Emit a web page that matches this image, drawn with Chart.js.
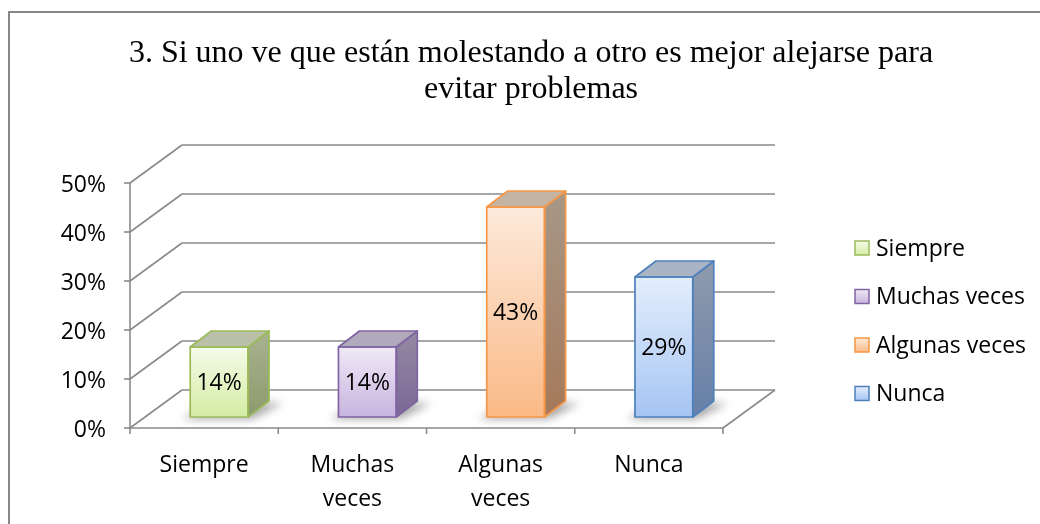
<!DOCTYPE html>
<html>
<head>
<meta charset="utf-8">
<script src="https://cdn.jsdelivr.net/npm/chart.js@4.4.1/dist/chart.umd.min.js"></script>
<style>
    html, body { margin: 0; padding: 0; background: #fff; }
    canvas { display: block; }
</style>
</head>
<body>
<canvas id="grafico" width="1040" height="524"></canvas>
<script>
const titulo = ['3. Si uno ve que están molestando a otro es mejor alejarse para', 'evitar problemas'];
const categorias = ['Siempre', 'Muchas veces', 'Algunas veces', 'Nunca'];
const etiquetasX = [['Siempre'], ['Muchas', 'veces'], ['Algunas', 'veces'], ['Nunca']];
const valores = [14.29, 14.29, 42.86, 28.57];
const etiquetasValor = ['14%', '14%', '43%', '29%'];
const ticksY = [0, 10, 20, 30, 40, 50];

const bordes = ['#9bbb59', '#8064a2', '#f79646', '#4f81bd'];
const frenteClaro = ['#f5fbe9', '#efe9f6', '#fdeadb', '#e3eefc'];
const frenteOscuro = ['#d4eca4', '#c7b4df', '#fab986', '#a6c5f3'];
const ladoClaro = ['#a9b290', '#9489a3', '#a69888', '#8f9aad'];
const ladoOscuro = ['#8c9b6d', '#7b6895', '#a6795a', '#6780a8'];
const techo = ['#b9c0a7', '#b1a9bc', '#c3b4a4', '#a9b4c5'];

// profundidad del piso y de las barras
const PISO = { dx: 52, dy: -38 };
const FRENTE_BARRA = { dx: 15, dy: -11 };
const FONDO_BARRA = { dx: 21, dy: -16 };
const GRIS = '#8a8a8a';
const FUENTE = '"Open Sans", "DejaVu Sans", sans-serif';

function linea(ctx, x1, y1, x2, y2) {
    ctx.beginPath();
    ctx.moveTo(x1, y1);
    ctx.lineTo(x2, y2);
    ctx.stroke();
}

function poligono(ctx, puntos) {
    ctx.beginPath();
    ctx.moveTo(puntos[0][0], puntos[0][1]);
    for (let i = 1; i < puntos.length; i++) ctx.lineTo(puntos[i][0], puntos[i][1]);
    ctx.closePath();
}

const plugin3D = {
    id: 'plugin3D',
    beforeDatasetsDraw(chart) {
        const ctx = chart.ctx;
        const a = chart.chartArea;
        const y = chart.scales.y;

        ctx.save();
        ctx.strokeStyle = GRIS;
        ctx.lineWidth = 1.6;

        // paredes: lineas de cuadricula de fondo y lateral
        ticksY.forEach(v => {
            const py = y.getPixelForValue(v);
            linea(ctx, a.left, py, a.left + PISO.dx, py + PISO.dy);
            linea(ctx, a.left + PISO.dx, py + PISO.dy, a.right + PISO.dx, py + PISO.dy);
        });

        // piso
        linea(ctx, a.right, a.bottom, a.right + PISO.dx, a.bottom + PISO.dy);
        linea(ctx, a.left, a.bottom, a.right, a.bottom);
        linea(ctx, a.left, a.top, a.left, a.bottom);

        // marcas de los ejes
        ticksY.forEach(v => {
            const py = y.getPixelForValue(v);
            linea(ctx, a.left - 6, py, a.left, py);
        });
        const paso = (a.right - a.left) / categorias.length;
        for (let i = 0; i <= categorias.length; i++) {
            const px = a.left + paso * i;
            linea(ctx, px, a.bottom, px, a.bottom + 6);
        }
        ctx.restore();

        // sombras en el piso
        const meta = chart.getDatasetMeta(0);
        ctx.save();
        ctx.translate(FRENTE_BARRA.dx, FRENTE_BARRA.dy);
        ctx.filter = 'blur(4px)';
        ctx.fillStyle = 'rgba(60, 60, 60, 0.45)';
        meta.data.forEach(bar => {
            const l = bar.x - bar.width / 2;
            const r = bar.x + bar.width / 2;
            const b = bar.base;
            poligono(ctx, [
                [l - 8, b + 2], [r + 4, b + 2],
                [r + FONDO_BARRA.dx + 14, b + FONDO_BARRA.dy + 2],
                [l + FONDO_BARRA.dx, b + FONDO_BARRA.dy + 2]
            ]);
            ctx.fill();
        });
        ctx.restore();

        // las barras se dibujan en el plano de su cara frontal
        ctx.save();
        ctx.translate(FRENTE_BARRA.dx, FRENTE_BARRA.dy);
    },
    afterDatasetsDraw(chart) {
        const ctx = chart.ctx;
        const meta = chart.getDatasetMeta(0);

        meta.data.forEach((bar, i) => {
            const l = bar.x - bar.width / 2;
            const r = bar.x + bar.width / 2;
            const t = bar.y;
            const b = bar.base;
            const dx = FONDO_BARRA.dx, dy = FONDO_BARRA.dy;

            ctx.lineWidth = 1.7;
            ctx.lineJoin = 'round';
            ctx.strokeStyle = bordes[i];

            const gLado = ctx.createLinearGradient(0, t + dy, 0, b);
            gLado.addColorStop(0, ladoClaro[i]);
            gLado.addColorStop(1, ladoOscuro[i]);
            poligono(ctx, [[r, t], [r + dx, t + dy], [r + dx, b + dy], [r, b]]);
            ctx.fillStyle = gLado;
            ctx.fill();
            ctx.stroke();

            poligono(ctx, [[l, t], [l + dx, t + dy], [r + dx, t + dy], [r, t]]);
            ctx.fillStyle = techo[i];
            ctx.fill();
            ctx.stroke();

            ctx.strokeRect(l, t, r - l, b - t);

            ctx.fillStyle = '#000';
            ctx.font = '23px ' + FUENTE;
            ctx.textAlign = 'center';
            ctx.textBaseline = 'middle';
            ctx.fillText(etiquetasValor[i], bar.x, (t + b) / 2 + 1);
        });
        ctx.restore();
    },
    afterDraw(chart) {
        const ctx = chart.ctx;
        const a = chart.chartArea;
        const y = chart.scales.y;
        const x = chart.scales.x;

        ctx.save();
        // borde del grafico
        ctx.strokeStyle = '#868686';
        ctx.lineWidth = 2;
        ctx.strokeRect(9, 12, 1200, 700);

        // titulo
        ctx.fillStyle = '#000';
        ctx.font = '32px "Liberation Serif", "Times New Roman", serif';
        ctx.textAlign = 'center';
        ctx.textBaseline = 'alphabetic';
        ctx.fillText(titulo[0], 531, 62);
        ctx.fillText(titulo[1], 531, 98);

        // etiquetas del eje Y
        ctx.font = '23px ' + FUENTE;
        ctx.textAlign = 'right';
        ctx.textBaseline = 'middle';
        ticksY.forEach(v => {
            ctx.fillText(v + '%', 106, y.getPixelForValue(v) + 2);
        });

        // etiquetas del eje X
        ctx.textAlign = 'center';
        etiquetasX.forEach((lineas, i) => {
            const px = x.getPixelForValue(i);
            lineas.forEach((txt, j) => {
                ctx.fillText(txt, px, a.bottom + 37 + j * 34);
            });
        });

        // leyenda
        const leyendaY = [248, 296.5, 345, 393.5];
        ctx.textAlign = 'left';
        categorias.forEach((cat, i) => {
            const cy = leyendaY[i];
            const g = ctx.createLinearGradient(0, cy - 7, 0, cy + 7);
            g.addColorStop(0, frenteClaro[i]);
            g.addColorStop(1, frenteOscuro[i]);
            ctx.fillStyle = g;
            ctx.fillRect(855, cy - 7, 14, 14);
            ctx.strokeStyle = bordes[i];
            ctx.lineWidth = 1.5;
            ctx.strokeRect(855, cy - 7, 14, 14);
            ctx.fillStyle = '#000';
            ctx.fillText(cat, 876, cy + 1);
        });
        ctx.restore();
    }
};

function degradadoFrente(context) {
    const chart = context.chart;
    if (!chart.chartArea) return frenteClaro[context.dataIndex];
    const y = chart.scales.y;
    const i = context.dataIndex;
    const top = y.getPixelForValue(valores[i]);
    const base = y.getPixelForValue(0);
    const g = chart.ctx.createLinearGradient(0, top, 0, base);
    g.addColorStop(0, frenteClaro[i]);
    g.addColorStop(1, frenteOscuro[i]);
    return g;
}

new Chart(document.getElementById('grafico'), {
    type: 'bar',
    data: {
        labels: categorias,
        datasets: [{
            data: valores,
            backgroundColor: degradadoFrente,
            borderColor: bordes,
            borderWidth: 0,
            borderSkipped: false,
            barPercentage: 0.39,
            categoryPercentage: 1,
            clip: false
        }]
    },
    options: {
        responsive: false,
        devicePixelRatio: 1,
        animation: false,
        layout: {
            padding: { left: 130, right: 317, top: 183, bottom: 96 }
        },
        scales: {
            x: { display: false },
            y: { display: false, min: 0, max: 50 }
        },
        plugins: {
            legend: { display: false },
            title: { display: false },
            tooltip: { enabled: false }
        }
    },
    plugins: [plugin3D]
});
</script>
</body>
</html>
